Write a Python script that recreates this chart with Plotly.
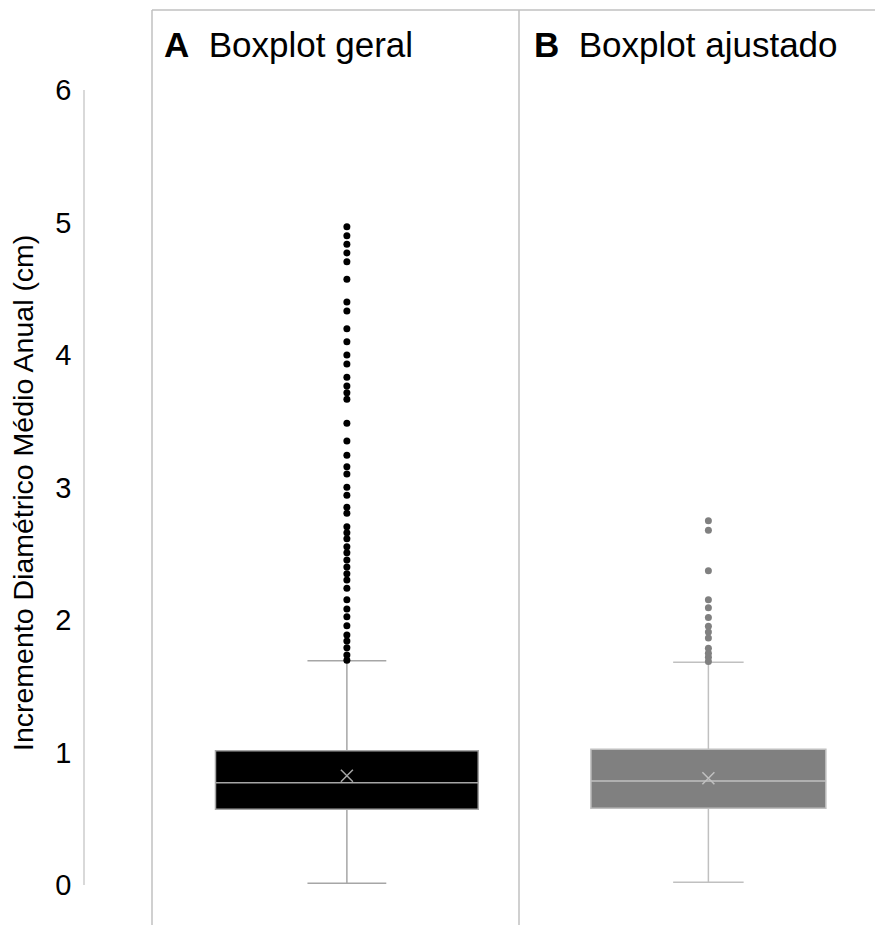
import plotly.graph_objects as go

# Summary statistics of the annual mean diameter increment (cm)
panels = ["A", "B"]
panel_titles = ["Boxplot geral", "Boxplot ajustado"]
q1_vals = [0.571, 0.579]
median_vals = [0.772, 0.785]
q3_vals = [1.014, 1.024]
lower_fence = [0.013, 0.020]
upper_fence = [1.693, 1.681]
mean_vals = [0.825, 0.805]

# Points beyond the upper whisker
outliers_geral = [4.968, 4.900, 4.836, 4.770, 4.704, 4.571, 4.400, 4.332, 4.199,
                  4.100, 4.000, 3.932, 3.832, 3.766, 3.716, 3.666, 3.485, 3.351,
                  3.243, 3.157, 3.102, 3.002, 2.941, 2.851, 2.805, 2.704, 2.659,
                  2.614, 2.553, 2.508, 2.453, 2.400, 2.349, 2.302, 2.239, 2.153,
                  2.083, 2.025, 1.957, 1.887, 1.842, 1.791, 1.736, 1.697]
outliers_ajustado = [2.749, 2.677, 2.372, 2.153, 2.093, 2.019, 1.953, 1.909,
                     1.864, 1.786, 1.749, 1.718, 1.687]
outliers = [outliers_geral, outliers_ajustado]

y_ticks = [0, 1, 2, 3, 4, 5, 6]
y_title = "Incremento Diamétrico Médio Anual (cm)"

W, H = 875, 925
FONT = "Liberation Sans, Arial, sans-serif"

fill_colors = ["#000000", "#808080"]
edge_colors = ["#a6a6a6", "#c0c0c0"]
point_colors = ["#000000", "#808080"]
box_pos = [0.531, 0.532]
box_width = [0.716, 0.66]
axis_names = [("x", "y"), ("x2", "y")]

fig = go.Figure()
for i in range(2):
    xa, ya = axis_names[i]
    fig.add_trace(go.Box(
        x=[box_pos[i]], q1=[q1_vals[i]], median=[median_vals[i]], q3=[q3_vals[i]],
        lowerfence=[lower_fence[i]], upperfence=[upper_fence[i]],
        orientation="v", width=box_width[i], whiskerwidth=0.3,
        fillcolor=fill_colors[i], line=dict(color=edge_colors[i], width=1.5),
        boxpoints=False, hoverinfo="skip", showlegend=False,
        xaxis=xa, yaxis=ya,
    ))
    fig.add_trace(go.Scatter(
        x=[box_pos[i]] * len(outliers[i]), y=outliers[i], mode="markers",
        marker=dict(color=point_colors[i], size=7),
        showlegend=False, xaxis=xa, yaxis=ya,
    ))
    fig.add_trace(go.Scatter(
        x=[box_pos[i]], y=[mean_vals[i]], mode="markers",
        marker=dict(symbol="x-thin", size=12,
                    line=dict(color=edge_colors[i], width=1.5)),
        showlegend=False, xaxis=xa, yaxis=ya,
    ))

def px(x):
    return x / W

def py(y):
    return 1 - y / H

y_dom = [py(885), py(90)]
fig.update_layout(
    width=W, height=H,
    margin=dict(l=0, r=0, t=0, b=0, autoexpand=False),
    paper_bgcolor="white", plot_bgcolor="white",
    font=dict(family=FONT, color="black"),
    xaxis=dict(domain=[px(152), px(519)], range=[0, 1], visible=False,
               automargin=False),
    xaxis2=dict(domain=[px(519), 1.0], range=[0, 1], visible=False, anchor="y",
                automargin=False),
    yaxis=dict(domain=y_dom, range=[0, 6], tickvals=y_ticks,
               anchor="free", position=px(84), automargin=False,
               showline=True, linecolor="#d9d9d9", linewidth=1.5,
               showgrid=False, zeroline=False, ticks="",
               ticklabelstandoff=6,
               tickfont=dict(size=29, family=FONT, color="black")),
)

# Panel frame lines
line_style = dict(color="#c0c0c0", width=1.5)
fig.add_shape(type="line", xref="paper", yref="paper",
              x0=px(152), x1=1.0, y0=py(10), y1=py(10), line=line_style)
for xv in (152, 519):
    fig.add_shape(type="line", xref="paper", yref="paper",
                  x0=px(xv), x1=px(xv), y0=py(10), y1=0, line=line_style)

# Panel headings
title_x = [162, 532]
for i in range(2):
    fig.add_annotation(
        xref="paper", yref="paper", x=px(title_x[i]), y=py(45),
        xanchor="left", yanchor="middle", showarrow=False,
        text=f"<b>{panels[i]}</b>  {panel_titles[i]}",
        font=dict(size=35, family=FONT, color="black"),
    )

# Y-axis title
fig.add_annotation(
    xref="paper", yref="paper", x=px(23), y=py(493),
    xanchor="center", yanchor="middle", showarrow=False, textangle=-90,
    text=y_title, font=dict(size=28.5, family=FONT, color="black"),
)

fig.write_html("out.html")
